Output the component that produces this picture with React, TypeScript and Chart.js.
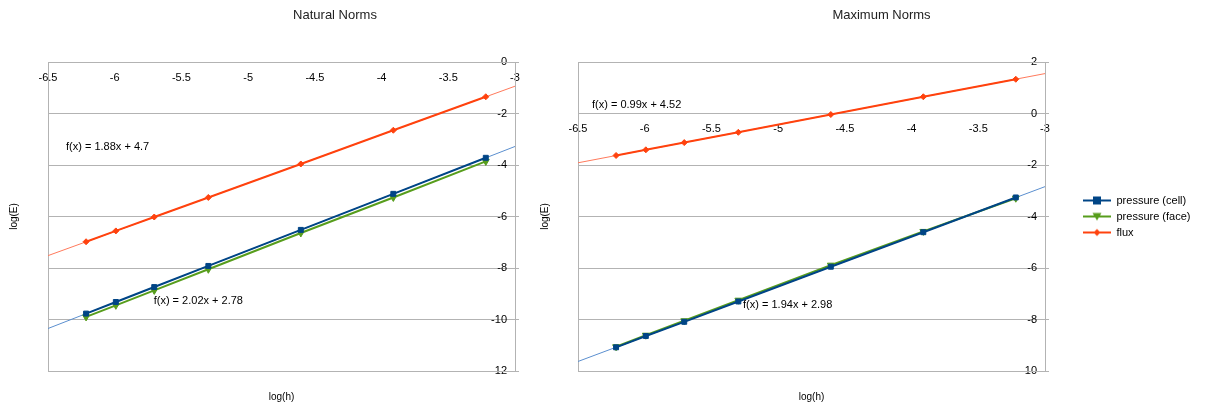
import React, { useEffect, useRef } from 'react';
import { Chart, registerables } from 'chart.js';

Chart.register(...registerables);

// ---------------- data ----------------
const LOG_H = [-6.2146, -5.9915, -5.7038, -5.2983, -4.6052, -3.912, -3.2189];

const NAT_PRESSURE_CELL = [-9.77, -9.32, -8.74, -7.92, -6.52, -5.12, -3.72];
const NAT_PRESSURE_FACE = [-9.9, -9.45, -8.87, -8.05, -6.64, -5.26, -3.86];
const NAT_FLUX = [-6.98, -6.56, -6.02, -5.26, -3.96, -2.65, -1.35];

const MAX_PRESSURE_CELL = [-9.08, -8.64, -8.09, -7.3, -5.95, -4.61, -3.26];
const MAX_PRESSURE_FACE = [-9.06, -8.61, -8.05, -7.25, -5.89, -4.58, -3.29];
const MAX_FLUX = [-1.63, -1.41, -1.13, -0.73, -0.04, 0.65, 1.33];

const TREND_X = [-6.5, -3];
const NAT_TREND_PRESSURE = [-10.35, -3.28];
const NAT_TREND_FLUX = [-7.52, -0.94];
const MAX_TREND_PRESSURE = [-9.63, -2.84];
const MAX_TREND_FLUX = [-1.915, 1.55];

const X_TICKS = [-6.5, -6, -5.5, -5, -4.5, -4, -3.5, -3];
const NAT_Y_TICKS = [0, -2, -4, -6, -8, -10, -12];
const MAX_Y_TICKS = [2, 0, -2, -4, -6, -8, -10];

const SERIES_LABELS = ['pressure (cell)', 'pressure (face)', 'flux'];
const NAT_EQUATIONS = ['f(x) = 1.88x + 4.7', 'f(x) = 2.02x + 2.78'];
const MAX_EQUATIONS = ['f(x) = 0.99x + 4.52', 'f(x) = 1.94x + 2.98'];

// ---------------- layout / style ----------------
const NAT_EQ_ANCHORS = [
  { x: -6.365, y: -3.3 },
  { x: -5.708, y: -9.28 },
];
const MAX_EQ_ANCHORS = [
  { x: -6.395, y: 0.33 },
  { x: -5.263, y: -7.44 },
];

const FONT = '"Liberation Sans", Arial, sans-serif';
const C_CELL = '#004586';
const C_FACE = '#579d1c';
const C_FLUX = '#ff420e';
const C_TREND_BLUE = '#5b8fcf';
const C_TREND_RED = '#ff7a5c';
const GRID = '#b3b3b3';

Chart.defaults.font.family = FONT;

const LEGEND_PAD = 5;
const LEGEND_W = 150;

function legendIcon(color: string, shape: string) {
  const c = document.createElement('canvas');
  c.width = 28;
  c.height = 10;
  const g = c.getContext('2d') as CanvasRenderingContext2D;
  g.strokeStyle = color;
  g.lineWidth = 2;
  g.beginPath();
  g.moveTo(0, 5);
  g.lineTo(28, 5);
  g.stroke();
  g.fillStyle = color;
  g.beginPath();
  if (shape === 'rect') {
    g.rect(10, 1, 8, 8);
  } else if (shape === 'tri') {
    g.moveTo(9.5, 1.5);
    g.lineTo(18.5, 1.5);
    g.lineTo(14, 9);
    g.closePath();
  } else {
    g.moveTo(14, 1.5);
    g.lineTo(17.5, 5);
    g.lineTo(14, 8.5);
    g.lineTo(10.5, 5);
    g.closePath();
  }
  g.fill();
  return c;
}

function series(ys: number[], label: string, color: string, style: string, radius: number, rotation = 0) {
  return {
    label,
    data: LOG_H.map((x, i) => ({ x, y: ys[i] })),
    showLine: true,
    borderColor: color,
    backgroundColor: color,
    borderWidth: 2,
    pointStyle: style,
    pointRadius: radius,
    pointRotation: rotation,
    pointBorderWidth: 1,
    pointBorderColor: color,
    pointBackgroundColor: color,
    pointHoverRadius: radius,
  };
}

function trend(ys: number[], color: string) {
  return {
    label: 'trend',
    data: TREND_X.map((x, i) => ({ x, y: ys[i] })),
    showLine: true,
    borderColor: color,
    backgroundColor: color,
    borderWidth: 1,
    pointRadius: 0,
    pointHoverRadius: 0,
  };
}

const framePlugin = {
  id: 'frame',
  beforeDatasetsDraw(chart: any) {
    const { ctx, chartArea } = chart;
    const { left, top, right, bottom } = chartArea;
    ctx.save();
    ctx.strokeStyle = GRID;
    ctx.lineWidth = 1;
    ctx.strokeRect(Math.round(left) + 0.5, Math.round(top) + 0.5, Math.round(right - left), Math.round(bottom - top));
    ctx.restore();
  },
};

function equationPlugin(texts: string[], anchors: { x: number; y: number }[]) {
  return {
    id: 'equations',
    afterDatasetsDraw(chart: any) {
      const { ctx } = chart;
      const xs = chart.scales.x;
      const ys = chart.scales.y;
      ctx.save();
      ctx.font = `11px ${FONT}`;
      ctx.fillStyle = '#000';
      ctx.textAlign = 'left';
      ctx.textBaseline = 'middle';
      texts.forEach((t, i) => {
        ctx.fillText(t, xs.getPixelForValue(anchors[i].x), ys.getPixelForValue(anchors[i].y));
      });
      ctx.restore();
    },
  };
}

const legendWidthPlugin = {
  id: 'legendWidth',
  beforeLayout(chart: any) {
    const lg = chart.legend;
    if (lg && !lg.__fixed) {
      const f = lg.fit.bind(lg);
      lg.fit = function () {
        f();
        this.width = LEGEND_W;
      };
      lg.__fixed = true;
    }
  },
};

function makeConfig(opts: {
  title: string;
  yMin: number;
  yMax: number;
  yTicks: number[];
  datasets: any[];
  leftW: number;
  yTitlePad: number;
  yAxisW: number;
  padRight: number;
  legend: boolean;
  plugins: any[];
}) {
  const tickFont = { size: 11, family: FONT };
  return {
    type: 'scatter',
    data: { datasets: opts.datasets },
    options: {
      animation: false,
      responsive: false,
      devicePixelRatio: 1,
      events: [],
      layout: { padding: { left: 0, right: opts.padRight, top: 0, bottom: 0 } },
      plugins: {
        title: {
          display: true,
          text: opts.title,
          color: '#222',
          font: { size: 13, weight: 'normal', family: FONT },
          padding: { top: 8, bottom: 38.4 },
        },
        legend: {
          display: opts.legend,
          position: 'right',
          align: 'center',
          fullSize: false,
          labels: {
            usePointStyle: true,
            pointStyleWidth: 28,
            padding: LEGEND_PAD,
            color: '#000',
            font: { size: 11, family: FONT },
            filter: (item: any) => item.datasetIndex < 3,
            generateLabels: (chart: any) => {
              const icons = [legendIcon(C_CELL, 'rect'), legendIcon(C_FACE, 'tri'), legendIcon(C_FLUX, 'diamond')];
              return chart.data.datasets.map((ds: any, i: number) => ({
                text: ds.label,
                datasetIndex: i,
                pointStyle: icons[i] || 'line',
                rotation: 0,
                fillStyle: ds.borderColor,
                strokeStyle: ds.borderColor,
                lineWidth: 0,
                hidden: false,
                fontColor: '#000',
              }));
            },
          },
        },
        tooltip: { enabled: false },
      },
      scales: {
        x: {
          type: 'linear',
          position: { y: 0 },
          min: -6.5,
          max: -3,
          afterBuildTicks: (s: any) => {
            s.ticks = X_TICKS.map((v) => ({ value: v }));
          },
          ticks: {
            autoSkip: false,
            maxRotation: 0,
            padding: 9,
            color: '#000',
            font: tickFont,
            callback: (v: any) => String(v),
          },
          grid: { display: false, drawTicks: false },
          border: { display: false },
        },
        y: {
          type: 'linear',
          position: 'right',
          min: opts.yMin,
          max: opts.yMax,
          afterBuildTicks: (s: any) => {
            s.ticks = opts.yTicks.map((v) => ({ value: v }));
          },
          afterFit: (s: any) => {
            s.width = opts.yAxisW;
          },
          ticks: {
            mirror: true,
            padding: -8,
            color: '#000',
            font: tickFont,
            callback: (v: any) => String(v),
          },
          grid: { color: GRID, tickLength: 4, drawTicks: true },
          border: { display: true, color: GRID },
        },
        yt: {
          axis: 'y',
          type: 'linear',
          position: 'left',
          ticks: { display: false },
          grid: { display: false, drawTicks: false },
          border: { display: false },
          title: {
            display: true,
            text: 'log(E)',
            color: '#000',
            font: { size: 10, family: FONT },
            padding: { top: opts.yTitlePad, bottom: 0 },
          },
          afterFit: (s: any) => {
            s.width = opts.leftW;
          },
        },
        xt: {
          axis: 'x',
          type: 'linear',
          position: 'bottom',
          ticks: { display: false },
          grid: { display: false, drawTicks: false },
          border: { display: false },
          title: {
            display: true,
            text: 'log(h)',
            color: '#000',
            font: { size: 10, family: FONT },
            padding: { top: 0, bottom: 4 },
          },
          afterFit: (s: any) => {
            s.height = 36;
          },
        },
      },
    },
    plugins: [framePlugin, ...opts.plugins],
  } as any;
}

export default function App() {
  const leftRef = useRef<HTMLCanvasElement>(null);
  const rightRef = useRef<HTMLCanvasElement>(null);

  useEffect(() => {
    const left = new Chart(
      leftRef.current as HTMLCanvasElement,
      makeConfig({
        title: 'Natural Norms',
        yMin: -12,
        yMax: 0,
        yTicks: NAT_Y_TICKS,
        datasets: [
          series(NAT_PRESSURE_CELL, SERIES_LABELS[0], C_CELL, 'rect', 3.5),
          series(NAT_PRESSURE_FACE, SERIES_LABELS[1], C_FACE, 'triangle', 4, 180),
          series(NAT_FLUX, SERIES_LABELS[2], C_FLUX, 'rectRot', 3),
          trend(NAT_TREND_PRESSURE, C_TREND_BLUE),
          trend(NAT_TREND_FLUX, C_TREND_RED),
        ],
        leftW: 48,
        yTitlePad: 8,
        yAxisW: 155,
        padRight: 0,
        legend: false,
        plugins: [equationPlugin(NAT_EQUATIONS, NAT_EQ_ANCHORS)],
      })
    );
    const right = new Chart(
      rightRef.current as HTMLCanvasElement,
      makeConfig({
        title: 'Maximum Norms',
        yMin: -10,
        yMax: 2,
        yTicks: MAX_Y_TICKS,
        datasets: [
          series(MAX_PRESSURE_CELL, SERIES_LABELS[0], C_CELL, 'rect', 3.5),
          series(MAX_PRESSURE_FACE, SERIES_LABELS[1], C_FACE, 'triangle', 4, 180),
          series(MAX_FLUX, SERIES_LABELS[2], C_FLUX, 'rectRot', 3),
          trend(MAX_TREND_PRESSURE, C_TREND_BLUE),
          trend(MAX_TREND_FLUX, C_TREND_RED),
        ],
        leftW: 43,
        yTitlePad: 4,
        yAxisW: 38 - LEGEND_PAD,
        padRight: 182 - (38 - LEGEND_PAD) - LEGEND_W,
        legend: true,
        plugins: [equationPlugin(MAX_EQUATIONS, MAX_EQ_ANCHORS), legendWidthPlugin],
      })
    );
    return () => {
      left.destroy();
      right.destroy();
    };
  }, []);

  return (
    <div
      style={{
        position: 'fixed',
        left: 0,
        top: 0,
        width: 1207,
        height: 407,
        overflow: 'hidden',
        background: '#fff',
      }}
    >
      <canvas ref={leftRef} width={670} height={407} style={{ position: 'absolute', left: 0, top: 0 }} />
      <canvas ref={rightRef} width={692} height={407} style={{ position: 'absolute', left: 535, top: 0 }} />
    </div>
  );
}
